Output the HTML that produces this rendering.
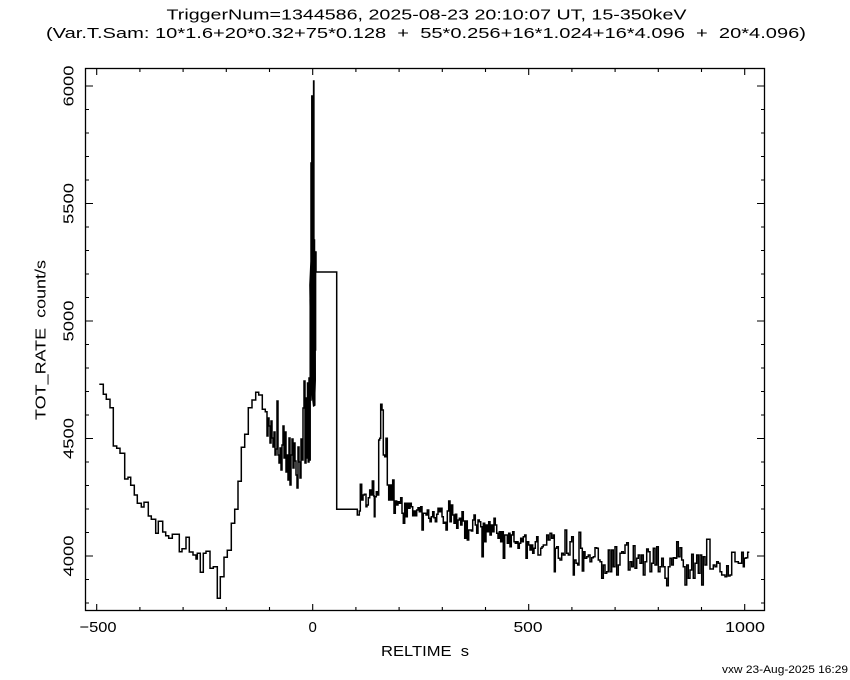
<!DOCTYPE html>
<html><head><meta charset="utf-8"><style>
html,body{margin:0;padding:0;background:#fff;}
svg{display:block;}
text{font-family:"Liberation Sans",sans-serif;fill:#000;white-space:pre;}
</style></head><body>
<svg width="850" height="680" viewBox="0 0 850 680" xmlns="http://www.w3.org/2000/svg">
<rect width="850" height="680" fill="#fff"/>
<text x="166.5" y="19.3" font-size="15" textLength="520" lengthAdjust="spacingAndGlyphs">TriggerNum=1344586, 2025-08-23 20:10:07 UT, 15-350keV</text>
<text x="46" y="38" font-size="15" textLength="760" lengthAdjust="spacingAndGlyphs">(Var.T.Sam: 10*1.6+20*0.32+75*0.128  +  55*0.256+16*1.024+16*4.096  +  20*4.096)</text>

<rect x="85.5" y="68.5" width="679" height="542" fill="none" stroke="#000" stroke-width="1.3"/>
<g stroke="#000" stroke-width="1.1" fill="none">
<path d="M96.7,611V604M96.7,68V75M312.7,611V604M312.7,68V75M528.7,611V604M528.7,68V75M744.7,611V604M744.7,68V75"/>
<path d="M139.9,611V607M139.9,68V72M183.1,611V607M183.1,68V72M226.3,611V607M226.3,68V72M269.5,611V607M269.5,68V72M355.9,611V607M355.9,68V72M399.1,611V607M399.1,68V72M442.3,611V607M442.3,68V72M485.5,611V607M485.5,68V72M571.9,611V607M571.9,68V72M615.1,611V607M615.1,68V72M658.3,611V607M658.3,68V72M701.5,611V607M701.5,68V72"/>
<path d="M85,556H93M765,556H757M85,438.5H93M765,438.5H757M85,321H93M765,321H757M85,203.5H93M765,203.5H757M85,86H93M765,86H757"/>
<path d="M85,603H89M765,603H761M85,579.5H89M765,579.5H761M85,532.5H89M765,532.5H761M85,509H89M765,509H761M85,485.5H89M765,485.5H761M85,462H89M765,462H761M85,415H89M765,415H761M85,391.5H89M765,391.5H761M85,368H89M765,368H761M85,344.5H89M765,344.5H761M85,297.5H89M765,297.5H761M85,274H89M765,274H761M85,250.5H89M765,250.5H761M85,227H89M765,227H761M85,180H89M765,180H761M85,156.5H89M765,156.5H761M85,133H89M765,133H761M85,109.5H89M765,109.5H761"/>
</g>

<g font-size="15">
<text x="98" y="632" text-anchor="middle" textLength="37" lengthAdjust="spacingAndGlyphs">−500</text>
<text x="312.7" y="632" text-anchor="middle">0</text>
<text x="528" y="632" text-anchor="middle" textLength="29" lengthAdjust="spacingAndGlyphs">500</text>
<text x="745" y="632" text-anchor="middle" textLength="40" lengthAdjust="spacingAndGlyphs">1000</text>
<text transform="translate(73.5,86) rotate(-90)" text-anchor="middle" textLength="41" lengthAdjust="spacingAndGlyphs">6000</text>
<text transform="translate(73.5,203.5) rotate(-90)" text-anchor="middle" textLength="41" lengthAdjust="spacingAndGlyphs">5500</text>
<text transform="translate(73.5,321) rotate(-90)" text-anchor="middle" textLength="41" lengthAdjust="spacingAndGlyphs">5000</text>
<text transform="translate(73.5,438.5) rotate(-90)" text-anchor="middle" textLength="41" lengthAdjust="spacingAndGlyphs">4500</text>
<text transform="translate(73.5,556) rotate(-90)" text-anchor="middle" textLength="41" lengthAdjust="spacingAndGlyphs">4000</text>
<text transform="translate(45.5,340) rotate(-90)" text-anchor="middle" textLength="160" lengthAdjust="spacingAndGlyphs">TOT_RATE  count/s</text>
<text x="381" y="656" textLength="88" lengthAdjust="spacingAndGlyphs">RELTIME  s</text>
</g>
<text x="722" y="673" font-size="11" textLength="126" lengthAdjust="spacingAndGlyphs">vxw 23-Aug-2025 16:29</text>

<g stroke="#000" stroke-width="1.5" fill="none" stroke-linejoin="miter">
<path d="M99.3,384.3H103.3V394.3H106.3V399.3H110V407.7H113.3V446H116.7V448.3H120V453.3H124.7V479H128V477.3H130.7V485.3H134.3V495H137.3V503.3H141.3V507H144V502.3H148.3V516H151.3V519.3H155.7V533.3H158.3V521.3H162.7V532H165.7V535.7H168.7V538.3H172.3V534.3H179.3V551.7H182V548.7H186V537.3H189.3V552H193V555H196V559H197.3V553.3H200.3V572.3H203.3V553.3H206V551.3H210V568.3H213.3V566.7H217.3V598.3H220.3V576.7H224V557.3H227.3V550.3H231.3V523.3H234.7V509.3H238V481.3H241.3V447.3H244.7V434.3H248.3V407.7H252V400H255.7V392.3H258.7V395H262.3V409.3H265.3V411.7H267
V436H268V418H269V426H270V443H271V421H272V438H273V447H274V432H275V455H276V449H277V401H278V455H279V463H280V448H281V470H282V445H283V426H284V458H285V432H286V472H287V455H288V480H289V438H290V485H291V455H292V439H293V468H294V443H295V461H296V475H297V488H298V447H299V462H300V478H301V439H302V460H303V408H304V381H305V463H306V398H306.8V458H307.5V383H308.2V462H309V378H309.6V460H310.2V300H310.6V400H311V163H311.4V320H311.8V96H312.2V290H312.6V230H313V380H313.3V260H313.6V81H313.9V300H314.2V240H314.5V405H314.8V280H315.2V350H315.6V252H316V272H336.7V509.3H357.3
V515H359.3V511H360.3V484.3H361.7V500H363V495H364.3V494.3H366V506.7H367V505H368.3V497.7H369.7V490H371V495H372.3V481H373.7V496H374.3V516.7H375V496.7H376.3V491.7H377.7V495H378.7V440H379.7V438.3H380.7V404.3H382V410H383.3V455H384.7V456.7H386V438.3H387.3V485H388.7V500H390V485H391.3V500H392.7V480H394V513.3H395.3V501H396.7V505H398V501.7H399.3V503.3H400.7V497.7H402V513.3H403.3V523.3H404.7V503.3H406V516.7H407.3V503.3H408.7V508.3H410V503.3H411.3V506.7H412.7V515.7H414V511H415.3V515.7H416.7V510H418V507.7H419.3V511.7H420.7V506.7H422V530H423.3V513.3H424.7V513.3H426V515H427.3V510H428.7V518.3H430V521.7H431.3V516.7H432.7V511.7H434V517.7H435.3V521.7H436.7V514.3H438V508.3H439.3V511.7H440.7V508.3H442V516.7H443.3V523.3H444.7V522.3H446V530H447.3V511H448.7V501H450V521.7H451.3V505H452.7V515H454V523.3H455.3V514.3H456.7V528.3H458V520H459.3V518.3H460.7V525H462V511.7H463.3V521H464.7V538.3H466V521H467.3V540H468.7V530H470V530H471.3V531H472.7V520H474V515H475.3V525H476.7V533.3H478V520H479.3V521.7H480.7V526.7H482V556.7H483.3V523.3H484.7V541.7H486V525H487.3V531.7H488.7V521.7H490V535H491.3V525H492.7V531.7H494V518.3H495.3V525H496.7V533.3H498V538.3H499.3V531.7H500.7V541.7H502V531.7H503.3V558.3H504.7V535H506V535H507.3V543.3H508.7V533.3H510V546.7H511.3V535H512.7V531.7H514V541.7H515.3V543.3H516.7V541.7H518V548.3H519.3V543.3H520.7V538.3H522V541.7H523.3V536.7H524.7V535H526V558.3H527.3V541.7H528.7V545H530V550H531.3V545H532.7V553.3H534V548.3H535.3V541.7H536.7V536.7H538V555H539.3V555H540.7V548.3H542V546.7H543.3V545H545
V545H546.7V535H548.3V540H550V533.3H551.7V538.3H553.3V535H554.3V571.7H555.3V548.3H556.7V546.7H558.3V558.3H560V560H561.7V553.3H563.3V555H565V530H566.7V553.3H568.3V555H570V541.7H571.7V536.7H573.3V575H574.3V560H576V563.3H577.7V565H579V532.3H580.7V548.3H582.3V571H583.7V551.7H585V558.3H586.7V556.7H588.3V555H590V561.7H591.7V557.7H593.3V556.7H595V547.7H596.7V548.3H598.3V560H600V561.7H601.7V578.3H603.3V565H605V573.3H606.7V571.7H608.3V550H610V571.7H611.7V550H613.3V566.7H615V546.7H616.7V575H618.3V565H620V553.3H621.7V551.7H623.3V553.3H625V545H626.7V542.7H628.3V570H630V561.7H631.7V566.7H633.3V545.7H635V568.3H636.7V558.3H638.3V555H640V563.3H641.7V555H643.3V575H645V561.7H646.7V549H648.3V551.7H650V571.7H651.7V563.3H653.3V548.3H655V565H656.7V546.7H658.3V571.7H660V566.7H661.7V558.3H663.3V566.7H665V578.3H666.7V585.7H668.3V566.7H670V558.3H671.7V565H673.3V557.7H675V558.3H676.7V541.7H678.3V556.7H680V547.7H681.7V560H683.3V566.7H685V585H686.7V565H688.3V578.3H690V570H691.7V554.3H693.3V578.3H695V563.3H696.7V555H698.3V573.3H700V555H701.7V585H703.3V556.7H705V565H706.7V539.3H710V569H713.3V565H715V566.7H716.7V561.7H718.3V563.3H720V571.7H721.7V575H725V576.7H726.7V565.7H728.3V576H730V575H731.7V552.3H735V561.7H738.3V563.3H741.7V552.3H743.3V566.7H744.3V558.3H746V557.7H747.7V552.3H749.3"/>
</g>
<polygon fill="#000" points="311.7,230 314.3,230 314.6,250 315.8,252 315.8,285 316,380 315,406 313,407 311.5,395 310.5,380 309.2,285 310,267 311.5,250"/>
</svg>
</body></html>
